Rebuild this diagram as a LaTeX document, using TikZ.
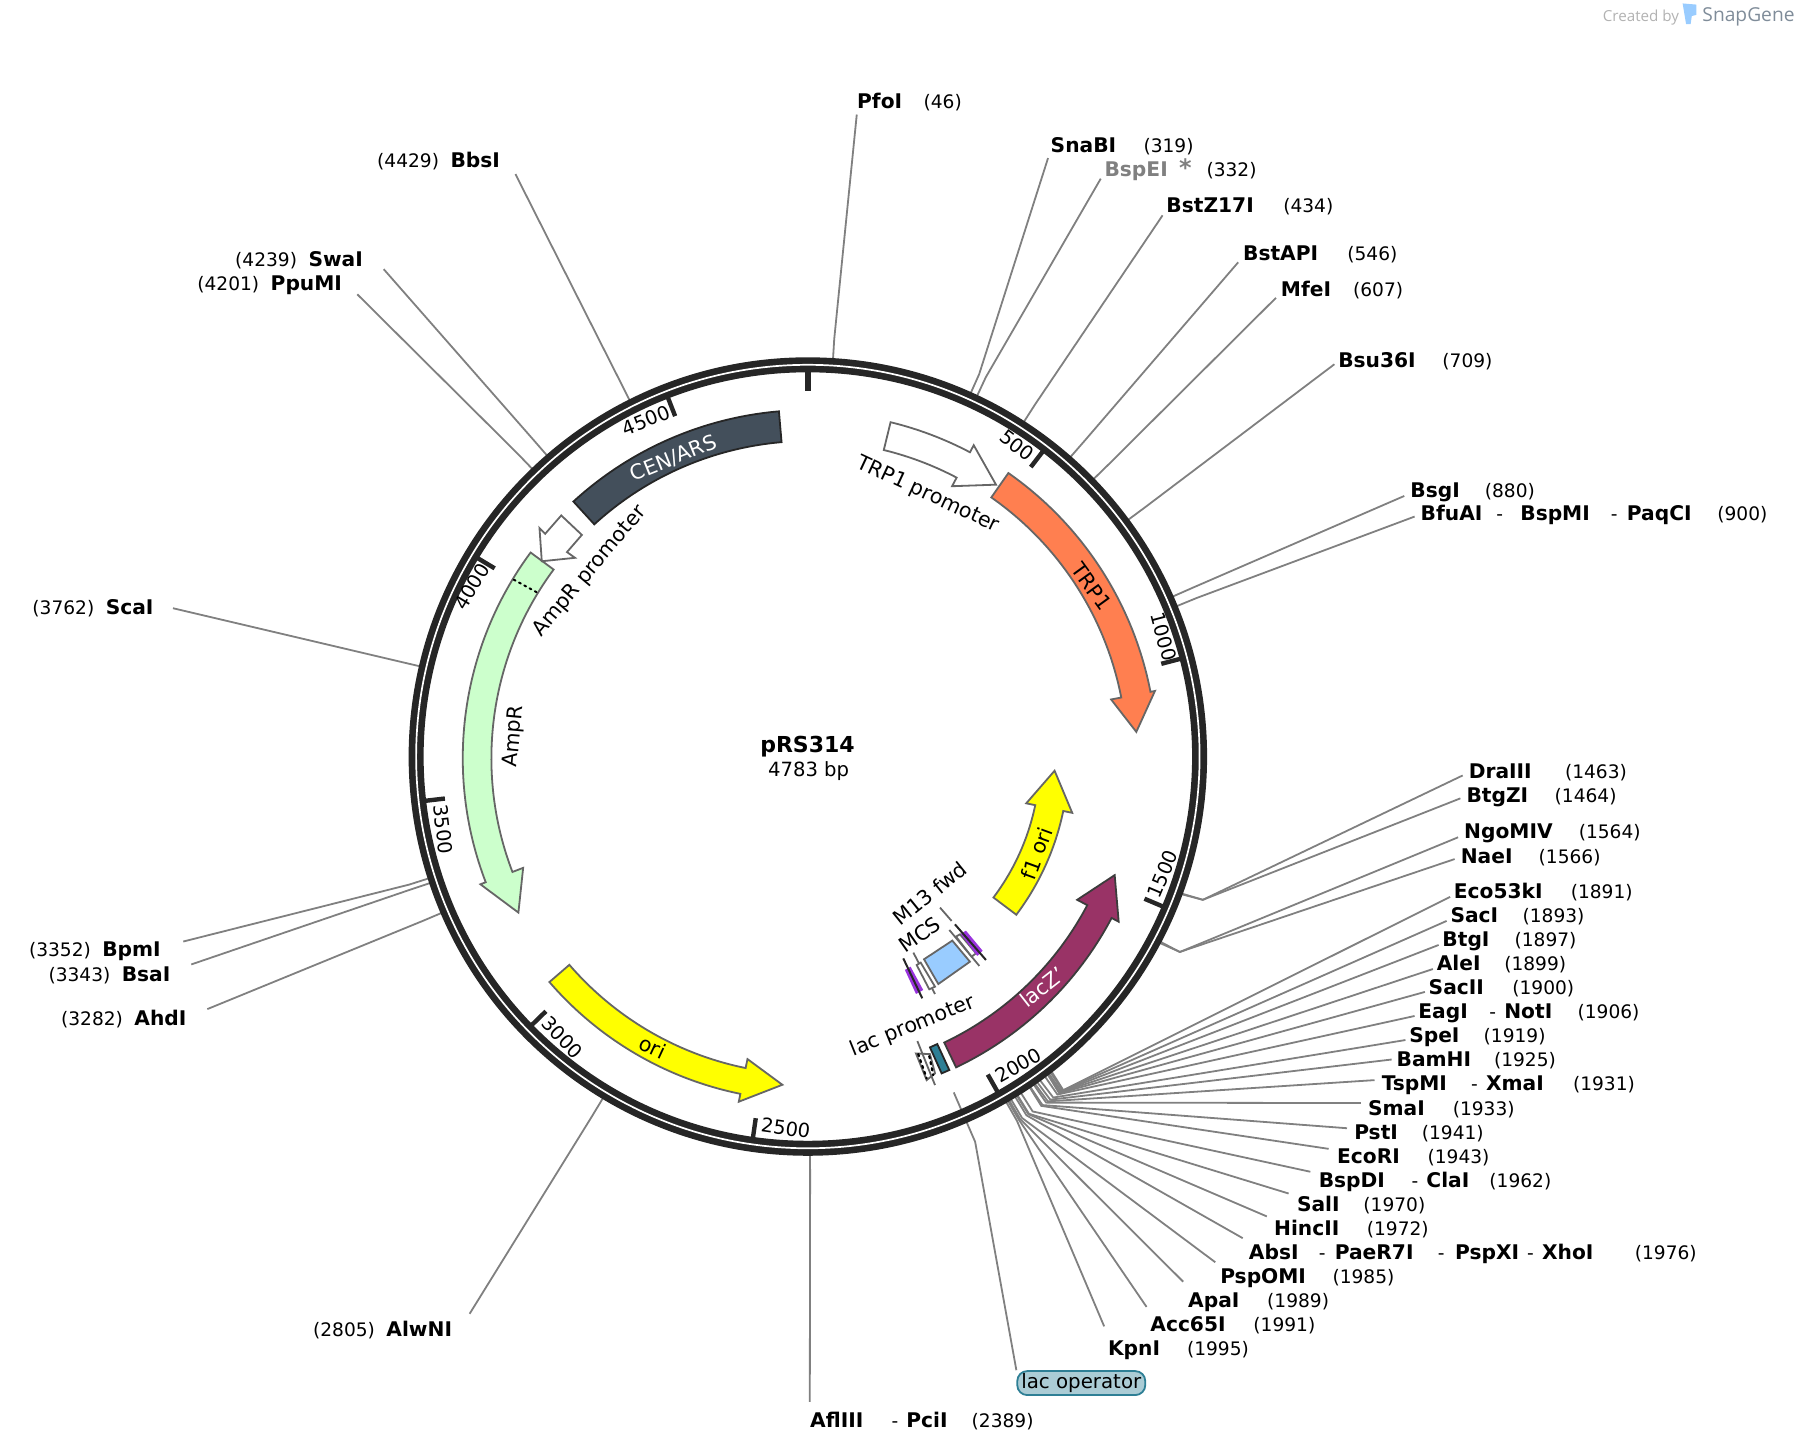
\documentclass[tikz,border=0pt]{standalone}
\usepackage{fontspec}
\setmainfont{DejaVu Sans}
\newfontfamily\markfont{Open Sans}
\definecolor{ringcol}{HTML}{262626}
\definecolor{leadcol}{HTML}{808080}
\definecolor{edgecol}{HTML}{666666}
\definecolor{trpcol}{HTML}{FF7F50}
\definecolor{ampcol}{HTML}{CCFFCC}
\definecolor{cencol}{HTML}{434F5B}
\definecolor{laczcol}{HTML}{993366}
\definecolor{opcol}{HTML}{2E7F95}
\definecolor{mcscol}{HTML}{99CCFF}
\definecolor{m13col}{HTML}{9933DD}
\definecolor{oricol}{RGB}{255,255,0}
\definecolor{brandcol}{HTML}{7F8C99}
\tikzset{
  enz/.style={anchor=west,inner sep=0pt,text height=9pt,text depth=1.6pt,font=\fontsize{10.1}{11}\selectfont\bfseries},
  loc/.style={anchor=west,inner sep=0pt,text height=9pt,text depth=1.6pt,font=\fontsize{9.3}{11}\selectfont},
  tick/.style={line width=2.2pt,draw=ringcol},
  ticktext/.style={inner sep=0pt,font=\fontsize{9.7}{11}\selectfont},
  feattext/.style={inner sep=0pt,font=\fontsize{10.3}{11}\selectfont},
  leader/.style={draw=leadcol,line width=0.9pt},
  feat/.style={draw=edgecol,line width=0.9pt,line join=miter}
}
\newcommand{\enzcut}[4]{
  \coordinate (#1e) at (#2);
  \coordinate (#1b) at ([shift={(#3:366)}]plasmid);
  \coordinate (#1r) at ([shift={(#4:346)}]plasmid);
  \draw[leader] (#1e) -- (#1b) -- (#1r);
}
\begin{document}
\begin{tikzpicture}[x=0.5727pt,y=0.5727pt,yscale=-1]
  \useasboundingbox (0,0) rectangle (1568,1268);
  \coordinate (plasmid) at (706,661);

  % enzyme sites
  \node[enz] (pfoi) at (748,88) {PfoI};
  \node[loc] (pfoil) at (806,88) {(46)};
  \node[enz] (snabi) at (917,127) {SnaBI};
  \node[loc] (snabil) at (998,127) {(319)};
  \node[enz,text=leadcol] (bspei) at (964,148) {BspEI};
  \node[enz,text=leadcol,font=\fontsize{12}{12}\selectfont\bfseries] (bspeis) at (1029,148) {*};
  \node[loc] (bspeil) at (1053,148) {(332)};
  \node[enz] (bstz) at (1018,179) {BstZ17I};
  \node[loc] (bstzl) at (1120,179) {(434)};
  \node[enz] (bstapi) at (1085,221) {BstAPI};
  \node[loc] (bstapil) at (1176,221) {(546)};
  \node[enz] (mfei) at (1118,252) {MfeI};
  \node[loc] (mfeil) at (1181,252) {(607)};
  \node[enz] (bsu) at (1168,314) {Bsu36I};
  \node[loc] (bsul) at (1259,314) {(709)};
  \node[enz] (bsgi) at (1231,428) {BsgI};
  \node[loc] (bsgil) at (1296,428) {(880)};
  \node[enz] (bfuai) at (1240,448) {BfuAI};
  \node[loc] (bfuaid) at (1306,448) {-};
  \node[enz] (bspmi) at (1327,448) {BspMI};
  \node[loc] (bspmid) at (1406,448) {-};
  \node[enz] (paqci) at (1420,448) {PaqCI};
  \node[loc] (paqcil) at (1499,448) {(900)};
  \node[enz] (draiii) at (1282,673) {DraIII};
  \node[loc] (draiiil) at (1366,673) {(1463)};
  \node[enz] (btgzi) at (1280,694) {BtgZI};
  \node[loc] (btgzil) at (1357,694) {(1464)};
  \node[enz] (ngomiv) at (1278,726) {NgoMIV};
  \node[loc] (ngomivl) at (1378,726) {(1564)};
  \node[enz] (naei) at (1275,747) {NaeI};
  \node[loc] (naeil) at (1343,747) {(1566)};
  \node[enz] (eco53) at (1269,778) {Eco53kI};
  \node[loc] (eco53l) at (1371,778) {(1891)};
  \node[enz] (saci) at (1266,799) {SacI};
  \node[loc] (sacil) at (1329,799) {(1893)};
  \node[enz] (btgi) at (1259,820) {BtgI};
  \node[loc] (btgil) at (1322,820) {(1897)};
  \node[enz] (alei) at (1254,841) {AleI};
  \node[loc] (aleil) at (1313,841) {(1899)};
  \node[enz] (sacii) at (1247,862) {SacII};
  \node[loc] (saciil) at (1320,862) {(1900)};
  \node[enz] (eagi) at (1238,883) {EagI};
  \node[loc] (eagid) at (1300,883) {-};
  \node[enz] (noti) at (1313,883) {NotI};
  \node[loc] (notil) at (1377,883) {(1906)};
  \node[enz] (spei) at (1230,904) {SpeI};
  \node[loc] (speil) at (1295,904) {(1919)};
  \node[enz] (bamhi) at (1219,925) {BamHI};
  \node[loc] (bamhil) at (1304,925) {(1925)};
  \node[enz] (tspmi) at (1206,946) {TspMI};
  \node[loc] (tspmid) at (1284,946) {-};
  \node[enz] (xmai) at (1297,946) {XmaI};
  \node[loc] (xmail) at (1373,946) {(1931)};
  \node[enz] (smai) at (1194,967) {SmaI};
  \node[loc] (smail) at (1268,967) {(1933)};
  \node[enz] (psti) at (1182,988) {PstI};
  \node[loc] (pstil) at (1241,988) {(1941)};
  \node[enz] (ecori) at (1167,1009) {EcoRI};
  \node[loc] (ecoril) at (1246,1009) {(1943)};
  \node[enz] (bspdi) at (1151,1030) {BspDI};
  \node[loc] (bspdid) at (1232,1030) {-};
  \node[enz] (clai) at (1245,1030) {ClaI};
  \node[loc] (clail) at (1300,1030) {(1962)};
  \node[enz] (sali) at (1132,1051) {SalI};
  \node[loc] (salil) at (1190,1051) {(1970)};
  \node[enz] (hincii) at (1112,1072) {HincII};
  \node[loc] (hinciil) at (1193,1072) {(1972)};
  \node[enz] (absi) at (1090,1093) {AbsI};
  \node[loc] (absid) at (1151,1093) {-};
  \node[enz] (paer) at (1165,1093) {PaeR7I};
  \node[loc] (paerd) at (1255,1093) {-};
  \node[enz] (pspxi) at (1270,1093) {PspXI};
  \node[loc] (pspxid) at (1333,1093) {-};
  \node[enz] (xhoi) at (1346,1093) {XhoI};
  \node[loc] (xhoil) at (1427,1093) {(1976)};
  \node[enz] (pspomi) at (1065,1114) {PspOMI};
  \node[loc] (pspomil) at (1163,1114) {(1985)};
  \node[enz] (apai) at (1037,1135) {ApaI};
  \node[loc] (apail) at (1106,1135) {(1989)};
  \node[enz] (acc) at (1004,1156) {Acc65I};
  \node[loc] (accl) at (1094,1156) {(1991)};
  \node[enz] (kpni) at (967,1177) {KpnI};
  \node[loc] (kpnil) at (1036,1177) {(1995)};
  \node[enz] (afliii) at (707,1240) {AflIII};
  \node[loc] (afliiid) at (778,1240) {-};
  \node[enz] (pcii) at (791,1240) {PciI};
  \node[loc] (pciil) at (848,1240) {(2389)};
  \node[loc] (alwnil) at (273,1160) {(2805)};
  \node[enz] (alwni) at (337,1160) {AlwNI};
  \node[loc] (ahdil) at (53,889) {(3282)};
  \node[enz] (ahdi) at (117,889) {AhdI};
  \node[loc] (bsail) at (42,850) {(3343)};
  \node[enz] (bsai) at (106,850) {BsaI};
  \node[loc] (bpmil) at (25,829) {(3352)};
  \node[enz] (bpmi) at (89,829) {BpmI};
  \node[loc] (scail) at (28,530) {(3762)};
  \node[enz] (scai) at (92,530) {ScaI};
  \node[loc] (ppumil) at (172,247) {(4201)};
  \node[enz] (ppumi) at (236,247) {PpuMI};
  \node[loc] (swail) at (205,226) {(4239)};
  \node[enz] (swai) at (269,226) {SwaI};
  \node[loc] (bbsil) at (329,140) {(4429)};
  \node[enz] (bbsi) at (393,140) {BbsI};

  % leaders to the ring
  \enzcut{pfoi}{748,100}{-86.5}{-86.5}
  \enzcut{snabi}{915,138}{-66}{-66}
  \enzcut{bspei}{961,156}{-65}{-65}
  \enzcut{bstz}{1015,188}{-57.3}{-57.3}
  \enzcut{bstapi}{1081,229}{-48.9}{-48.9}
  \enzcut{mfei}{1114,260}{-44.3}{-44.3}
  \enzcut{bsu}{1165,318}{-36.6}{-36.6}
  \enzcut{bsgi}{1226,433}{-23.8}{-23.8}
  \enzcut{paqci}{1235,451}{-22.3}{-22.3}
  \enzcut{draiii}{1277,677}{19.9}{20.1}
  \enzcut{btgzi}{1275,697}{19.9}{20.2}
  \enzcut{ngomiv}{1273,731}{27.7}{27.7}
  \enzcut{naei}{1270,750}{27.7}{27.9}
  \enzcut{eco53}{1266,783}{52.6}{52.3}
  \enzcut{saci}{1263,804}{52.7}{52.5}
  \enzcut{btgi}{1256,825}{52.9}{52.8}
  \enzcut{alei}{1251,846}{53.1}{52.9}
  \enzcut{sacii}{1244,866}{53.3}{53}
  \enzcut{eagi}{1235,887}{53.6}{53.5}
  \enzcut{spei}{1227,908}{54.3}{54.4}
  \enzcut{bamhi}{1215,925}{54.8}{54.9}
  \enzcut{tspmi}{1200,943}{55.2}{55.3}
  \enzcut{smai}{1188,963}{55.5}{55.5}
  \enzcut{psti}{1176,985}{56.1}{56.1}
  \enzcut{ecori}{1160,1003}{56.3}{56.2}
  \enzcut{bspdi}{1144,1023}{57.7}{57.7}
  \enzcut{sali}{1125,1042}{58.3}{58.3}
  \enzcut{hincii}{1106,1062}{58.4}{58.4}
  \enzcut{absi}{1085,1081}{58.7}{58.7}
  \enzcut{pspomi}{1061,1102}{59.4}{59.4}
  \enzcut{apai}{1033,1119}{59.7}{59.7}
  \enzcut{acc}{1001,1141}{59.9}{59.9}
  \enzcut{kpni}{964,1158}{60.2}{60.2}
  \enzcut{afliii}{707,1224}{89.8}{89.8}
  \enzcut{alwni}{410,1147}{121.1}{121.1}
  \enzcut{ahdi}{181,881}{157}{157}
  \enzcut{bsai}{167,842}{161.6}{161.6}
  \enzcut{bpmi}{160,822}{162.3}{162.3}
  \enzcut{scai}{151,531}{193.15}{193.15}
  \enzcut{ppumi}{312,257}{226.2}{226.2}
  \enzcut{swai}{335,235}{229.06}{229.06}
  \enzcut{bbsi}{450,152}{243.35}{243.35}

  % lac operator label
  \node[draw=opcol,fill=opcol!40!white,line width=0.9pt,rounded corners=5pt,minimum width=64pt,minimum height=12pt,inner sep=0pt,font=\fontsize{9.9}{11}\selectfont] (lacop) at (944,1207.5) {lac operator};
  \coordinate (lacopa) at ([shift={(66.6:319)}]plasmid);
  \coordinate (lacopb) at ([shift={(66.6:366)}]plasmid);
  \draw[leader] (lacopa) -- (lacopb) -- (lacop.north west);

  % the ring
  \begin{scope}[shift={(705.3,660.5)}]
    \draw[draw=ringcol,line width=7.5pt] (0,0) circle (342);
    \draw[draw=white,line width=0.85pt] (0,0) circle (342);
    \draw[tick,line width=2.9pt] (-90:339) -- (-90:319);
    \draw[tick] (-52.4:338) -- (-52.4:319);
    \draw[tick] (-14.7:338) -- (-14.7:319);
    \draw[tick] (22.9:338) -- (22.9:319);
    \draw[tick] (60.5:338) -- (60.5:319);
    \draw[tick] (98.2:338) -- (98.2:319);
    \draw[tick] (135.8:338) -- (135.8:319);
    \draw[tick] (173.4:338) -- (173.4:319);
    \draw[tick] (211:338) -- (211:319);
    \draw[tick] (248.7:338) -- (248.7:319);
  \end{scope}

  % features
  \begin{scope}[shift={(706,662)}]
    \draw[feat,fill=cencol,draw=ringcol] (227.5:304) arc (227.5:265.1:304) -- (265.1:277) arc (265.1:227.5:277) -- cycle;
    \draw[feat,fill=trpcol] (-55:304) arc (-55:-11:304) -- (-11:308) -- (-4.6:287) -- (-11:269) -- (-11:278) arc (-11:-55:278) -- cycle;
    \draw[feat,fill=white] (-76.3:302) arc (-76.3:-62.2:302) -- (-62.2:309) -- (-55.6:289.5) -- (-62.2:268.5) -- (-62.2:277) arc (-62.2:-76.3:277) -- cycle;
    \draw[feat,fill=ampcol] (216.5:302) arc (216.5:159:302) -- (159:307) -- (152:287) -- (159:267) -- (159:277) arc (159:216.5:277) -- cycle;
    \draw[line width=1pt,dotted,line cap=round] (211.2:301) -- (211.4:278);
    \draw[feat,fill=oricol] (139.2:299) arc (139.2:101.5:299) -- (101.5:306) -- (94.6:286) -- (101.5:268) -- (101.5:276) arc (101.5:139.2:276) -- cycle;
    \draw[feat,fill=oricol] (37:227) arc (37:11.7:227) -- (11.7:235) -- (2.9:215) -- (11.7:194) -- (11.7:202) arc (11.7:37:202) -- cycle;
    \draw[feat,fill=laczcol,draw=ringcol!90] (64.5:299) arc (64.5:27.8:299) -- (27.8:306) -- (20.9:286) -- (27.8:265) -- (27.8:275) arc (27.8:64.5:275) -- cycle;
  \end{scope}

  % small features
  \draw[feat,fill=white] (471,461) -- (476,466) -- (490,450) -- (508,467) -- (495,482) -- (502,487) -- (473,490) -- cycle;
  \draw[feat,fill=opcol,draw=ringcol] (811.9,914.4) -- (818.3,911.5) -- (828.8,934.2) -- (822.1,937.1) -- cycle;
  \draw[feat,fill=white] (799.7,919.7) -- (811.9,920.3) -- (816.3,937.1) -- (809,943) -- cycle;
  \draw[feat] (800.9,908.9) -- (816.3,947.3);
  \draw[line width=1.1pt,dotted,line cap=round] (801.7,920.3) -- (809,941.5);
  \draw[line width=1.1pt,dotted,line cap=round] (811.3,922) -- (814.8,938.6);
  \draw[feat,fill=mcscol] (806.7,837.5) -- (831.4,821.2) -- (846.8,839.6) -- (819.2,859.1) -- cycle;
  \draw[feat] (797.4,831.7) -- (816.3,867.8);
  \draw[feat,fill=white] (800.3,842.5) -- (803.8,840.4) -- (816.3,861.4) -- (811.3,863.7) -- cycle;
  \draw[feat] (828.8,811.9) -- (855,843.3);
  \draw[feat,fill=white] (834.6,817.7) -- (838.1,815.7) -- (852.1,832.3) -- (848.3,835.2) -- cycle;
  \draw[feat] (820.7,792.4) -- (830.8,804);
  \fill[m13col] (838.7,815.4) -- (843.3,812.5) -- (857.9,830) -- (853.2,834.6) -- cycle;
  \draw[draw=ringcol,line width=1pt] (833.7,807) -- (860.8,838.1);
  \fill[m13col] (790,846.8) -- (795,844) -- (806,864.3) -- (799.7,867.8) -- cycle;
  \draw[draw=ringcol,line width=1pt] (788.6,836.7) -- (805.2,871.6);

  % centre and ticks
  \node[inner sep=0pt,font=\fontsize{11}{12}\selectfont\bfseries] (name) at (705,652) {pRS314};
  \node[ticktext,font=\fontsize{9.8}{12}\selectfont] (size) at (706,673) {4783 bp};
  \node[ticktext,rotate=-37.6] (t500) at (888,389) {500};
  \node[ticktext,rotate=-75.3] (t1000) at (1016,556) {1000};
  \node[ticktext,rotate=67] (t1500) at (1015,763) {1500};
  \node[ticktext,rotate=29.5] (t2000) at (889,930) {2000};
  \node[ticktext,rotate=-8] (t2500) at (686,985) {2500};
  \node[ticktext,rotate=-45.8] (t3000) at (491,906) {3000};
  \node[ticktext,rotate=-83.4] (t3500) at (387,724) {3500};
  \node[ticktext,rotate=59] (t4000) at (412,512) {4000};
  \node[ticktext,rotate=21.6] (t4500) at (564,367) {4500};

  % feature labels
  \node[feattext,text=white,rotate=22] (cen) at (588,400) {CEN/ARS};
  \node[feattext,rotate=-54] (trp) at (953,512) {TRP1};
  \node[feattext,rotate=-25] (trpp) at (810,432) {TRP1 promoter};
  \node[feattext,rotate=50] (ampp) at (515,499) {AmpR promoter};
  \node[feattext,rotate=85] (amp) at (449,643) {AmpR};
  \node[feattext,rotate=-25] (ori) at (570,914) {ori};
  \node[feattext,rotate=70] (f1) at (905,745) {f1 ori};
  \node[feattext,text=white,rotate=38] (lacz) at (910,862) {lacZ'};
  \node[feattext,rotate=22] (lacp) at (797,896) {lac promoter};
  \node[feattext,rotate=39] (m13) at (812,780) {M13 fwd};
  \node[feattext,rotate=35] (mcs) at (803,816) {MCS};

  % watermark
  \node[anchor=west,inner sep=0pt,text=black!30,font=\markfont\fontsize{7.6}{9}\selectfont] (made) at (1399,15) {Created by};
  \fill[mcscol] (1469,3) -- (1481,4) -- (1481,13) -- (1477,14) -- (1476,21) -- (1472,21) -- cycle;
  \node[anchor=west,inner sep=0pt,text=brandcol,font=\markfont\fontsize{9.6}{11}\selectfont] (brand) at (1486,15) {SnapGene};
\end{tikzpicture}
\end{document}
